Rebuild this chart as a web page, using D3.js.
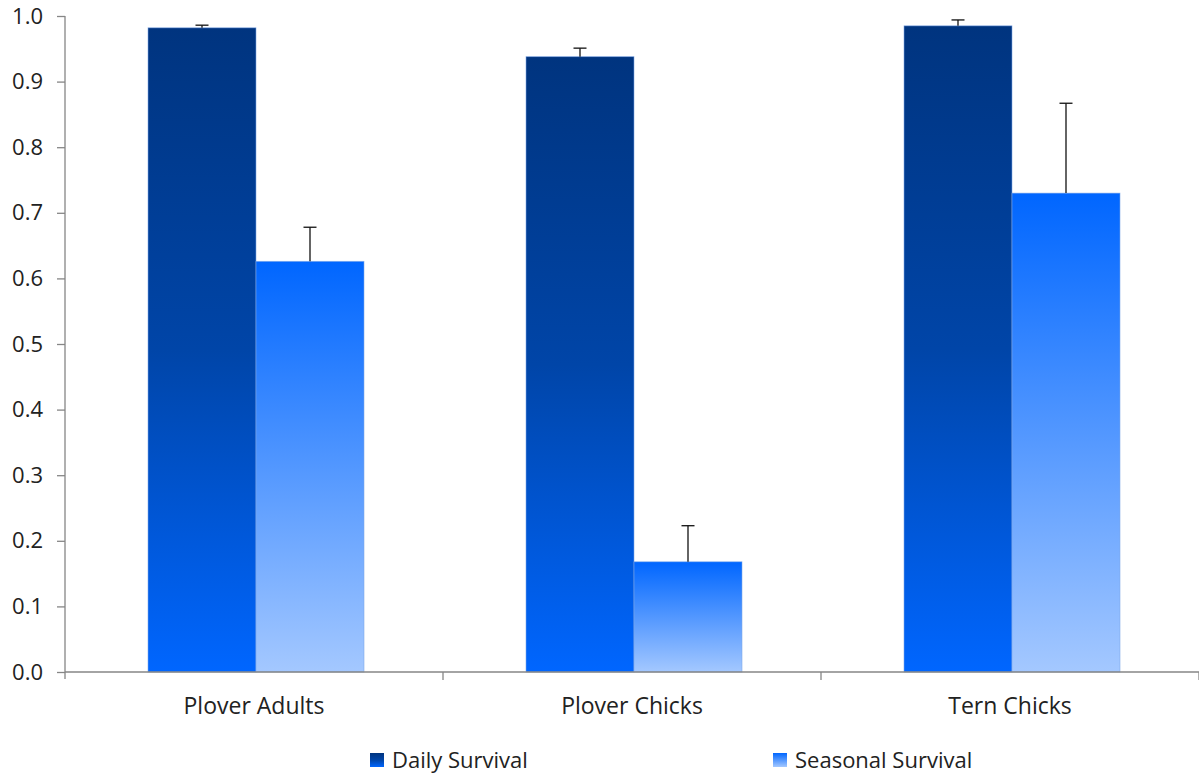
<!DOCTYPE html>
<html><head><meta charset="utf-8">
<script src="https://cdn.jsdelivr.net/npm/d3@7"></script>
<style>body{margin:0;background:#fff}svg{display:block}text{font-family:"Open Sans","Noto Sans",sans-serif;fill:#222}</style>
</head><body>
<svg id="c" width="1199" height="776"></svg>
<script>
const categories = ["Plover Adults", "Plover Chicks", "Tern Chicks"];
const seriesNames = ["Daily Survival", "Seasonal Survival"];
const dailyValues = [0.982, 0.938, 0.985];
const dailyErrors = [0.004, 0.013, 0.009];
const seasonalValues = [0.626, 0.168, 0.730];
const seasonalErrors = [0.052, 0.055, 0.137];
const yTicks = [0, 0.1, 0.2, 0.3, 0.4, 0.5, 0.6, 0.7, 0.8, 0.9, 1.0];

const svg = d3.select("#c");
const margin = {left: 65, right: 0, top: 16, bottom: 104};
const W = 1199, H = 776;
const x = d3.scaleBand().domain(categories).range([margin.left, W - margin.right]).padding(0);
const x1 = d3.scaleBand().domain(seriesNames).range([83, 83 + 216]).padding(0);
const y = d3.scaleLinear().domain([0, 1]).range([H - margin.bottom, margin.top]);

const defs = svg.append("defs");
const g1 = defs.append("linearGradient").attr("id", "gDaily").attr("x1", 0).attr("y1", 0).attr("x2", 0).attr("y2", 1);
g1.append("stop").attr("offset", 0).attr("stop-color", "#00347f");
g1.append("stop").attr("offset", 0.5).attr("stop-color", "#0045a8");
g1.append("stop").attr("offset", 1).attr("stop-color", "#0066ff");
const g2 = defs.append("linearGradient").attr("id", "gSeasonal").attr("x1", 0).attr("y1", 0).attr("x2", 0).attr("y2", 1);
g2.append("stop").attr("offset", 0).attr("stop-color", "#0066ff");
g2.append("stop").attr("offset", 1).attr("stop-color", "#a4c8ff");

const data = categories.map((c, i) => ({
  cat: c,
  series: [
    {name: seriesNames[0], v: dailyValues[i], e: dailyErrors[i], fill: "url(#gDaily)"},
    {name: seriesNames[1], v: seasonalValues[i], e: seasonalErrors[i], fill: "url(#gSeasonal)"}
  ]
}));

const groups = svg.selectAll("g.grp").data(data).join("g").attr("class", "grp")
  .attr("transform", d => `translate(${x(d.cat)},0)`);
groups.selectAll("rect").data(d => d.series).join("rect")
  .attr("x", s => x1(s.name)).attr("width", x1.bandwidth())
  .attr("y", s => y(s.v)).attr("height", s => y(0) - y(s.v))
  .attr("fill", s => s.fill).attr("stroke", "#7fa8e8").attr("stroke-width", 0.8).attr("stroke-opacity", 0.7);

groups.selectAll("g.err").data(d => d.series).join("g").attr("class", "err").each(function(s) {
  const g = d3.select(this);
  const cx = x1(s.name) + x1.bandwidth() / 2;
  g.append("line").attr("x1", cx).attr("x2", cx).attr("y1", y(s.v)).attr("y2", y(s.v + s.e)).attr("stroke", "#111").attr("stroke-width", 1.3);
  g.append("line").attr("x1", cx - 6.5).attr("x2", cx + 6.5).attr("y1", y(s.v + s.e)).attr("y2", y(s.v + s.e)).attr("stroke", "#111").attr("stroke-width", 1.3);
});

const yAxis = d3.axisLeft(y).tickValues(yTicks).tickFormat(d3.format(".1f")).tickSize(8).tickPadding(14);
const ya = svg.append("g").attr("transform", `translate(${margin.left},0)`).call(yAxis);
ya.select(".domain").attr("stroke", "#868686").attr("stroke-width", 1.3).attr("d", `M-0,${y(1)}V${y(0) + 7}`);
ya.selectAll(".tick line").attr("stroke", "#868686").attr("stroke-width", 1.3);
ya.selectAll(".tick text").style("font-size", "22px").attr("fill", "#222");

const xa = svg.append("g").attr("transform", `translate(0,${y(0)})`);
xa.append("line").attr("x1", margin.left).attr("x2", W).attr("y1", 0).attr("y2", 0).attr("stroke", "#868686").attr("stroke-width", 1.6);
const bounds = categories.map(c => x(c)).concat([x(categories[categories.length - 1]) + x.bandwidth()]);
xa.selectAll("line.tk").data(bounds.slice(1)).join("line").attr("class", "tk")
  .attr("x1", d => d).attr("x2", d => d).attr("y1", 0).attr("y2", 8).attr("stroke", "#868686").attr("stroke-width", 1.3);
xa.selectAll("text").data(categories).join("text")
  .attr("x", c => x(c) + x.bandwidth() / 2).attr("y", 42).attr("text-anchor", "middle")
  .style("font-size", "23px").text(c => c);

const legendX = [370, 773];
const lg = svg.selectAll("g.lg").data(seriesNames).join("g").attr("class", "lg")
  .attr("transform", (d, i) => `translate(${legendX[i]},753)`);
lg.append("rect").attr("width", 14).attr("height", 14).attr("fill", (d, i) => i === 0 ? "url(#gDaily)" : "url(#gSeasonal)");
lg.append("text").attr("x", 22).attr("y", 15).style("font-size", "22px").text(d => d);
</script>
</body></html>
